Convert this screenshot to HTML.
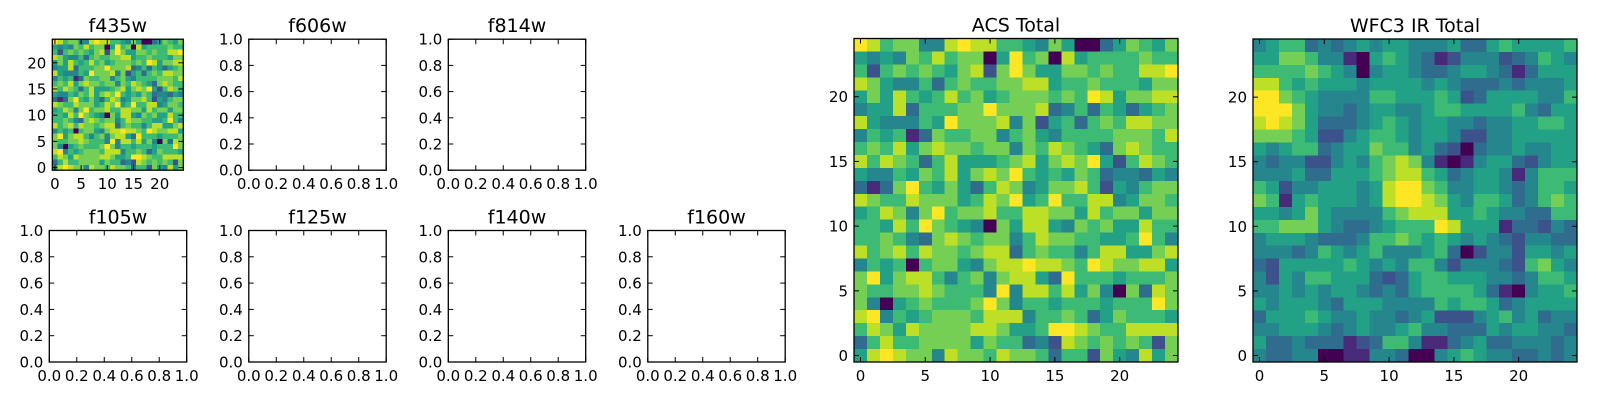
<!DOCTYPE html>
<html><head><meta charset="utf-8"><style>
html,body{margin:0;padding:0;background:#fff;}
svg{display:block;font-family:"DejaVu Sans","Liberation Sans",sans-serif;}
</style></head><body>
<svg id="fig" width="1600" height="400" viewBox="0 0 1600 400" xmlns="http://www.w3.org/2000/svg"></svg>
<script>
// ---- data (rows listed top row = y 24 first, 25 columns each, levels 0-9) ----
const acsRows = [
"9867744898866547500357657","5454768677059670856666766","6267676578279755776766889","8754463676677885667666577",
"5758656867567776769857788","4558366677977783463653567","8544465977784725636768877","4656137667746754666677768",
"6768578776774768765378766","8687636855567857879526876","5446576857879656576344354","3137965753687457786254677",
"8766877756879569668845776","5687479677866887758677577","6658697654075885476755866","6676437876774687766556964",
"8678687767883676646885578","4656067754788988769877885","7957886467478853966656667","7667787666494886857407387",
"7405676667974665666566697","8946567776888466763576665","6875877778875569987668888","3686677775766342876767627",
"5898774877687763662754857"];
const wfcRows = [
"4566343454554445335655556","5577644105654312444234654","6666765404554334554313555","8865655545555454333434445",
"9976544446655565235555446","9997544345544566555564355","8987533345654554434455665","7776522456654554224455555",
"5456634557664532034454455","4344224546787410145532455","4445335556788653455414666","6524455545899764455434665",
"7615655545899875466534676","5545754444678885565443366","6677754334566698555133243","4555433346676565454324433",
"4443465456444563024425545","3255555654546642444326754","4254665553235665554434665","4454545543435666653104556",
"5455543555444465665345555","3555654454434522245645344","4455543454456443335455443","5334333123664113453344434",
"4334400114430045654433434"];
const f435Rows = acsRows;
const heatTicks = [0, 5, 10, 15, 20];
const heatTickLabels = ["0", "5", "10", "15", "20"];
const unitTicks = [0, 0.2, 0.4, 0.6, 0.8, 1.0];
const unitTickLabels = ["0.0", "0.2", "0.4", "0.6", "0.8", "1.0"];
const levelToT = [0, 0.12, 0.25, 0.35, 0.46, 0.57, 0.68, 0.79, 0.9, 1.0];

const NS = "http://www.w3.org/2000/svg";
const fig = document.getElementById('fig');
const VIR = ["#440154","#482475","#414487","#355f8d","#2a788e","#21918c","#22a884","#44bf70","#7ad151","#bddf26","#fde725"];
function hex(h){return [1,3,5].map(i=>parseInt(h.substr(i,2),16));}
function viridis(t){
  t=Math.max(0,Math.min(1,t)); const p=t*10, i=Math.min(9,Math.floor(p)), f=p-i;
  const a=hex(VIR[i]), b=hex(VIR[i+1]);
  return "rgb("+a.map((v,k)=>Math.round(v+(b[k]-v)*f)).join(",")+")";
}
function mk(tag, attrs, parent){
  const el=document.createElementNS(NS,tag);
  for(const k in attrs) el.setAttribute(k,attrs[k]);
  (parent||fig).appendChild(el); return el;
}
function txt(parent, x, y, s, size, anchor){
  const t=mk('text',{x:x,y:y,'font-size':size,'text-anchor':anchor,fill:'#000'},parent);
  t.textContent=s; return t;
}

function axes(name, x0, y0, w, h, title, xdom, ydom, ticks, labels, rows){
  const g=mk('g',{});
  
  
  const sx=v=>x0+(v-xdom[0])/(xdom[1]-xdom[0])*w;
  const sy=v=>y0+h-(v-ydom[0])/(ydom[1]-ydom[0])*h;
  if(rows){
    const n=rows.length;
    const cells=mk('g',{'shape-rendering':'crispEdges'},g);
    
    
    rows.forEach((row,ri)=>{
      const yv=n-1-ri;
      for(let c=0;c<row.length;c++){
        const lv=+row[c];
        const r=mk('rect',{x:sx(c-0.5),y:sy(yv+0.5),width:sx(c+0.5)-sx(c-0.5)+0.5,height:sy(yv-0.5)-sy(yv+0.5)+0.5,fill:viridis(levelToT[lv])},cells);
        
        
      }
    });
  }
  const frame=mk('rect',{x:x0,y:y0,width:w,height:h,fill:'none',stroke:'#000','stroke-width':1.3},g);
  
  
  const tl=5;
  ticks.forEach((v,i)=>{
    const X=sx(v), Y=sy(v);
    mk('line',{x1:X,y1:y0+h,x2:X,y2:y0+h-tl,stroke:'#000','stroke-width':1},g);
    mk('line',{x1:X,y1:y0,x2:X,y2:y0+tl,stroke:'#000','stroke-width':1},g);
    mk('line',{x1:x0,y1:Y,x2:x0+tl,y2:Y,stroke:'#000','stroke-width':1},g);
    mk('line',{x1:x0+w,y1:Y,x2:x0+w-tl,y2:Y,stroke:'#000','stroke-width':1},g);
    const xl=txt(g,X,y0+h+19,labels[i],15,'middle');
    
    
    const yl=txt(g,x0-6,Y+5.5,labels[i],15,'end');
    
    
  });
  const tt=txt(g,x0+w/2,y0-7,title,19,'middle');
  
  
}

const hd=[-0.5,24.5];
axes('f435w-panel',52.3,39.2,131,131,'f435w',hd,hd,heatTicks,heatTickLabels,f435Rows);
axes('f606w-panel',248.8,39.2,137.4,131,'f606w',[0,1],[0,1],unitTicks,unitTickLabels,null);
axes('f814w-panel',448.3,39.2,137.4,131,'f814w',[0,1],[0,1],unitTicks,unitTickLabels,null);
axes('f105w-panel',49.3,230.5,137.4,131.5,'f105w',[0,1],[0,1],unitTicks,unitTickLabels,null);
axes('f125w-panel',248.8,230.5,137.4,131.5,'f125w',[0,1],[0,1],unitTicks,unitTickLabels,null);
axes('f140w-panel',448.3,230.5,137.4,131.5,'f140w',[0,1],[0,1],unitTicks,unitTickLabels,null);
axes('f160w-panel',647.8,230.5,137.4,131.5,'f160w',[0,1],[0,1],unitTicks,unitTickLabels,null);
axes('acs-total-panel',854,38.5,324,323.5,'ACS Total',hd,hd,heatTicks,heatTickLabels,acsRows);
axes('wfc3-ir-total-panel',1253,39,324,323,'WFC3 IR Total',hd,hd,heatTicks,heatTickLabels,wfcRows);
</script>
</body></html>
